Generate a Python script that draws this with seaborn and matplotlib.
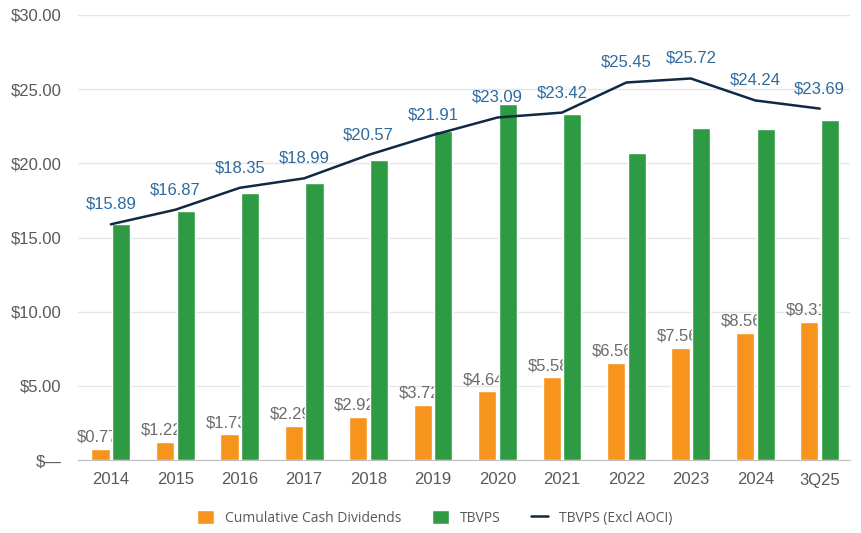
import numpy as np
import pandas as pd
import seaborn as sns
import matplotlib.pyplot as plt
from matplotlib.ticker import FuncFormatter

# data
years = ['2014', '2015', '2016', '2017', '2018', '2019', '2020', '2021', '2022', '2023', '2024', '3Q25']
dividends = [0.77, 1.22, 1.73, 2.29, 2.92, 3.72, 4.64, 5.58, 6.56, 7.56, 8.56, 9.31]
tbvps = [15.9, 16.8, 18.0, 18.7, 20.2, 22.2, 24.0, 23.3, 20.7, 22.4, 22.3, 22.9]
tbvps_ex_aoci = [15.89, 16.87, 18.35, 18.99, 20.57, 21.91, 23.09, 23.42, 25.45, 25.72, 24.24, 23.69]

orange = '#F7941D'
green = '#2E9B44'
navy = '#0F2A44'
blue_txt = '#2E6A9E'
grey_txt = '#6B6B6B'

bars = pd.DataFrame({
    'year': years * 2,
    'value': dividends + tbvps,
    'series': ['Cumulative Cash Dividends'] * len(years) + ['TBVPS'] * len(years),
})

sns.set_style('white')
plt.rcParams['font.family'] = ['Liberation Sans', 'DejaVu Sans']

fig, ax = plt.subplots(figsize=(8.61, 5.33), dpi=100)
fig.subplots_adjust(left=78 / 861, right=850 / 861, bottom=1 - 460 / 533, top=1 - 15 / 533)

sns.barplot(ax=ax, data=bars, x='year', y='value', hue='series',
            palette=[orange, green], width=0.64, gap=0.12, saturation=1, legend=True)
sns.lineplot(ax=ax, x=np.arange(len(years)), y=tbvps_ex_aoci, color=navy, linewidth=1.8,
             label='TBVPS (Excl AOCI)')

# labels
for i, v in enumerate(dividends):
    ax.annotate(f'${v:.2f}', (i - 0.21, v), xytext=(0, 3), textcoords='offset points',
                ha='center', va='bottom', fontsize=12, color=grey_txt, zorder=0.9)
for i, v in enumerate(tbvps_ex_aoci):
    ax.annotate(f'${v:.2f}', (i, v), xytext=(0, 9), textcoords='offset points',
                ha='center', va='bottom', fontsize=12, color=blue_txt, zorder=4)

ax.set_ylim(0, 30)
ax.set_xlim(-0.51, 11.47)
ax.set_yticks(np.arange(0, 31, 5))
ax.yaxis.set_major_formatter(FuncFormatter(lambda v, p: '$—' if v == 0 else f'${v:.2f}'))
ax.yaxis.grid(True, color='#E6E6E6', linewidth=1)
ax.set_axisbelow(True)
ax.set(xlabel='', ylabel='')
ax.tick_params(axis='both', length=0, labelsize=12, labelcolor='#595959')
ax.tick_params(axis='x', pad=9)
ax.tick_params(axis='y', pad=12)
for s in ['top', 'right', 'left']:
    ax.spines[s].set_visible(False)
ax.spines['bottom'].set_color('#BFBFBF')

handles, labels = ax.get_legend_handles_labels()
ax.get_legend().remove()
leg = fig.legend(handles, labels, ncol=3, loc='center', bbox_to_anchor=(0.505, 0.028),
                 frameon=False, handlelength=1.2, handleheight=1.2,
                 columnspacing=2.2, handletextpad=0.8, prop={'family': 'Open Sans', 'size': 10})
for t in leg.get_texts():
    t.set_color('#595959')

fig.savefig('out.png', dpi=100)
